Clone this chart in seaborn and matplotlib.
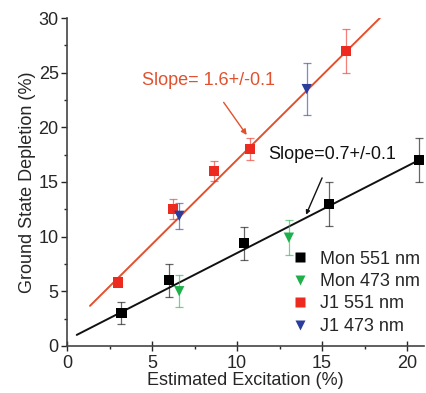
import matplotlib
matplotlib.use("Agg")
import matplotlib.pyplot as plt
import pandas as pd
import seaborn as sns
from matplotlib.ticker import MultipleLocator

# Data
mon551_x = [3.2, 6.0, 10.4, 15.4, 20.7]
mon551_y = [3.0, 6.0, 9.4, 13.0, 17.0]
mon551_err = [1.0, 1.5, 1.5, 2.0, 2.0]

mon473_x = [6.6, 13.05]
mon473_y = [5.0, 9.9]
mon473_err = [1.45, 1.6]

j1551_x = [3.0, 6.25, 8.65, 10.75, 16.4]
j1551_y = [5.8, 12.5, 16.0, 18.0, 27.0]
j1551_err = [0.3, 0.9, 0.9, 1.0, 2.0]

j1473_x = [6.6, 14.1]
j1473_y = [11.9, 23.5]
j1473_err = [1.2, 2.4]

fit_j1_x = [1.35, 18.4]
fit_j1_y = [3.66, 30.0]
fit_mon_x = [0.57, 20.7]
fit_mon_y = [1.0, 17.0]

names = ["Mon 551 nm", "Mon 473 nm", "J1 551 nm", "J1 473 nm"]
colors = {"Mon 551 nm": "#000000", "Mon 473 nm": "#1fb04a",
          "J1 551 nm": "#ec2a20", "J1 473 nm": "#2a3c9c"}
markers = {"Mon 551 nm": "s", "Mon 473 nm": "v", "J1 551 nm": "s", "J1 473 nm": "v"}

series = [(mon551_x, mon551_y, mon551_err), (mon473_x, mon473_y, mon473_err),
          (j1551_x, j1551_y, j1551_err), (j1473_x, j1473_y, j1473_err)]

rows = []
for name, (xs, ys, es) in zip(names, series):
    for x, y, e in zip(xs, ys, es):
        rows.append({"x": x, "y": y, "err": e, "series": name})
df = pd.DataFrame(rows)

sns.set_style("ticks")
plt.rcParams['font.family'] = ['Liberation Sans', 'DejaVu Sans']

fig = plt.figure(figsize=(4.27, 3.93), dpi=100)
ax = fig.add_axes([0.157, 0.120, 0.836, 0.834])

# fit lines
line_df = pd.DataFrame({"x": fit_j1_x + fit_mon_x, "y": fit_j1_y + fit_mon_y,
                        "fit": ["j1"] * 2 + ["mon"] * 2})
sns.lineplot(data=line_df, x="x", y="y", hue="fit", palette={"j1": "#e2512e", "mon": "#111111"},
             ax=ax, legend=False, linewidth=1.4, sort=False)

# error bars
for name in names:
    d = df[df["series"] == name]
    c = colors[name]
    ax.errorbar(d["x"], d["y"], yerr=d["err"], fmt="none", ecolor=c, elinewidth=0.9,
                capsize=3, capthick=0.9, alpha=0.6)

sns.scatterplot(data=df, x="x", y="y", hue="series", style="series", palette=colors,
                markers=markers, hue_order=names, style_order=names, s=55,
                edgecolor="none", ax=ax, zorder=5)

ax.set_xlim(0, 21)
ax.set_ylim(0, 30)
ax.xaxis.set_major_locator(MultipleLocator(5))
ax.xaxis.set_minor_locator(MultipleLocator(2.5))
ax.yaxis.set_major_locator(MultipleLocator(5))
ax.yaxis.set_minor_locator(MultipleLocator(2.5))
ax.tick_params(axis="x", which="major", direction="inout", length=7, width=1, labelsize=13, pad=3)
ax.tick_params(axis="y", which="major", direction="out", length=4, width=1, labelsize=13, pad=2)
ax.tick_params(which="minor", direction="out", length=2.5, width=1)
for s in ["left", "bottom"]:
    ax.spines[s].set_linewidth(1.2)
    ax.spines[s].set_color("#444444")
sns.despine(ax=ax)
ax.set_xlabel("Estimated Excitation (%)", fontsize=13, labelpad=0)
ax.set_ylabel("Ground State Depletion (%)", fontsize=13, labelpad=2)

ax.annotate("Slope= 1.6+/-0.1", xy=(10.57, 19.3), xytext=(8.3, 24.3),
            color="#e2512e", fontsize=13, ha="center", va="center",
            arrowprops=dict(arrowstyle="-|>", color="#e2512e", lw=1.0,
                            shrinkA=9, shrinkB=0, mutation_scale=8))
ax.annotate("Slope=0.7+/-0.1", xy=(14.06, 12.0), xytext=(15.6, 17.5),
            color="#111111", fontsize=13, ha="center", va="center",
            arrowprops=dict(arrowstyle="-|>", color="#111111", lw=1.0,
                            shrinkA=9, shrinkB=0, mutation_scale=6))

leg = ax.legend(loc="lower right", bbox_to_anchor=(1.025, -0.005), frameon=False, fontsize=13,
                handletextpad=0.35, labelspacing=0.3, borderaxespad=0.3, handlelength=1.5)
for h in leg.legend_handles:
    h.set_markersize(7)

fig.savefig("out.png", dpi=100)
